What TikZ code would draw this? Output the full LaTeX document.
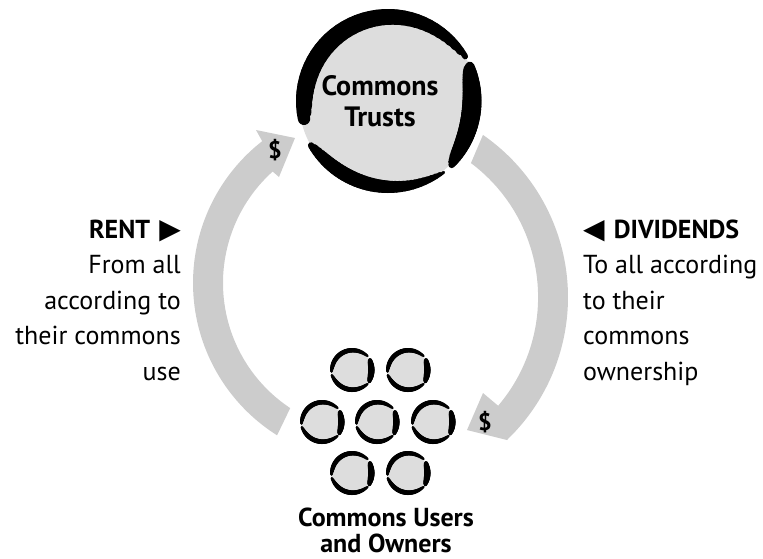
\documentclass[tikz,border=0pt]{standalone}
\usepackage{fontspec}
\setmainfont{PT Sans}
\newfontfamily\symfont{DejaVu Sans}
\definecolor{arrowgray}{RGB}{204,204,204}
\definecolor{discgray}{RGB}{221,221,221}
\newcommand\tri[1]{{\symfont\fontsize{28}{35.5}\selectfont #1}}
% tapered brush stroke along a circle: cx cy R a0 a1 wmax p wmin
\newcommand\ensostroke[8]{%
  \foreach \k in {0,...,35}{%
    \pgfmathsetmacro\ea{#4+(#5-#4)*\k/36}%
    \pgfmathsetmacro\eb{#4+(#5-#4)*(\k+1)/36}%
    \pgfmathsetmacro\et{(\k+0.5)/36}%
    \pgfmathsetmacro\ew{#6*(sin(180*(\et^#7)))^0.35+#8}%
    \pgfmathsetmacro\er{#3-\ew/2}%
    \draw[line width=\ew pt, line cap=round] ([shift={(#1,#2)}]\ea:\er) arc[start angle=\ea, end angle=\eb, radius=\er];
  }}
\newcommand\smallenso[3]{%
  \node[smalldisc] (#1) at (#2,#3) {};
  \ensostroke{#2}{#3}{22}{176}{318}{3.6}{0.8}{1.2}
  \ensostroke{#2}{#3}{22.5}{330}{395}{5.2}{0.9}{1.2}
  \ensostroke{#2}{#3}{22}{42}{166}{3.6}{1.1}{1.2}
}
\tikzset{
  sidetext/.style={font=\fontsize{26}{35.5}\selectfont, inner sep=0pt},
  labeltext/.style={font=\fontsize{28}{31}\selectfont\bfseries, inner sep=0pt, align=center},
  dollar/.style={font=\fontsize{24}{24}\selectfont\bfseries, inner sep=0pt},
  flow/.style={fill=arrowgray, draw=none},
  bigdisc/.style={circle, fill=discgray, minimum size=178pt, inner sep=0pt},
  smalldisc/.style={circle, fill=discgray, minimum size=41pt, inner sep=0pt},
}
\begin{document}
\begin{tikzpicture}[x=1pt, y=-1pt]
\useasboundingbox (0,0) rectangle (763,558);
% flows
\fill[flow] ([shift={(373,283)}]122.2:180) arc[start angle=122.2, end angle=232, radius=180]
  -- (256,130) -- (295,138) -- (279,177)
  -- ([shift={(373,283)}]228:150) arc[start angle=228, end angle=123.5, radius=150] -- cycle;
\fill[flow] ([shift={(370.6,297.2)}]-55.3:197.4) arc[start angle=-55.3, end angle=44, radius=197.4]
  -- (507,440) -- (467,430) -- (483,393)
  -- ([shift={(370.6,297.2)}]40.4:167.5) arc[start angle=40.4, end angle=-53.2, radius=167.5] -- cycle;
% commons trusts
\node[bigdisc] (trusts) at (388,101) {};
\ensostroke{388}{101}{92}{168}{330}{17}{0.55}{1.2}
\ensostroke{388}{101}{93.5}{337}{405}{18}{0.8}{1.2}
\ensostroke{388}{101}{92}{52}{150}{13}{1.6}{1.2}
\node[labeltext, anchor=base] (trustslabel) at (380,126) {Commons\\Trusts};
% users and owners
\smallenso{u1}{352}{370}
\smallenso{u2}{408}{370}
\smallenso{u3}{322}{422}
\smallenso{u4}{377}{422}
\smallenso{u5}{433}{422}
\smallenso{u6}{352}{473}
\smallenso{u7}{408}{473}
\node[labeltext, font=\fontsize{26}{25.5}\selectfont\bfseries, anchor=base] (userslabel) at (386,552) {Commons Users\\and Owners};
% dollar signs
\node[dollar] (dollarL) at (275,150) {\$};
\node[dollar] (dollarR) at (485,422) {\$};
% side texts
\node[sidetext, anchor=base east, align=right] (rent) at (181,380)
  {{\bfseries RENT}\hspace{0.35em}\tri{▶}\\From all\\according to\\their commons\\use};
\node[sidetext, anchor=base west, align=left] (dividends) at (583,380)
  {\tri{◀}\hspace{0.35em}{\bfseries DIVIDENDS}\\To all according\\to their\\commons\\ownership};
\end{tikzpicture}
\end{document}
